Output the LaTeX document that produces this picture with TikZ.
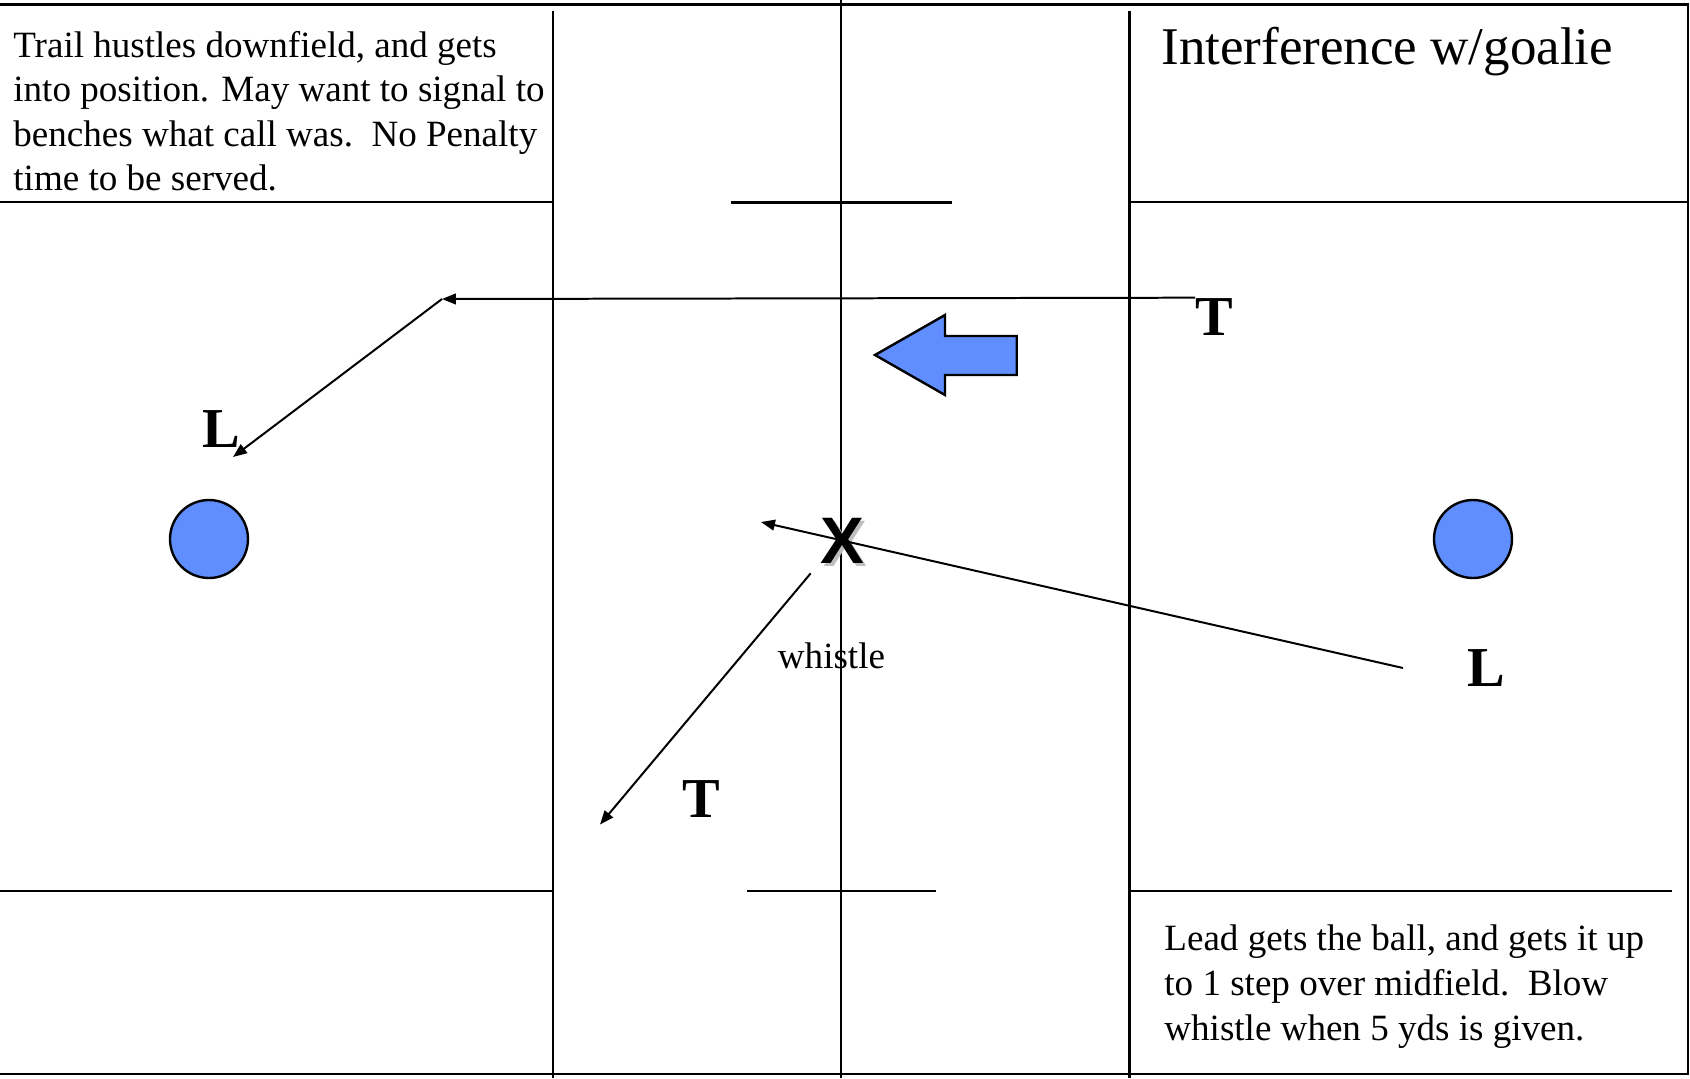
\documentclass[tikz,border=0pt]{standalone}
\usepackage{fontspec}
\setmainfont{Liberation Serif}
\newfontfamily\xfont{Liberation Sans}
\usetikzlibrary{arrows.meta}
\definecolor{ballblue}{RGB}{96,142,255}
\begin{document}
\begin{tikzpicture}[x=0.5bp,y=-0.5bp,
  field/.style={line width=1.3pt},
  move/.style={line width=1pt,-{Triangle[length=7pt,width=5.4pt]}},
  body/.style={font=\fontsize{18.6}{22.4}\selectfont, inner sep=0pt, anchor=base west},
  titletext/.style={font=\fontsize{26.6}{32}\selectfont, inner sep=0pt, anchor=base west},
  official/.style={font=\fontsize{28.3}{33}\selectfont\bfseries, inner sep=0pt, anchor=base west},
  ball/.style={circle, draw, line width=1.2pt, fill=ballblue, minimum size=39bp, inner sep=0pt},
  xstyle/.style={font=\xfont\fontsize{33}{38}\selectfont\bfseries, inner sep=0pt}]
\useasboundingbox (0,0) rectangle (1690,1078);
% field frame and lines
\draw[field] (0,4.5) -- (1688,4.5) -- (1688,1074) -- (0,1074);
\draw[field] (553,11) -- (553,1078);
\draw[field] (841,0) -- (841,1078);
\draw[field] (1129.5,11) -- (1129.5,1078);
\draw[field] (0,202) -- (553,202);
\draw[field] (730.7,202.7) -- (952,202.7);
\draw[field] (1129.5,202) -- (1688,202);
\draw[field] (0,891) -- (553,891);
\draw[field] (747,891) -- (935.5,891);
\draw[field] (1129.5,891) -- (1672,891);
% texts
\node[body] (tl1) at (13,57) {Trail hustles downfield, and gets};
\node[body] (tl2) at (13,101.5) {into position. May want to signal to};
\node[body] (tl3) at (13,146) {benches what call was.\ \ No Penalty};
\node[body] (tl4) at (13,190.5) {time to be served.};
\node[titletext] (title) at (1161,64) {Interference w/goalie};
\node[body] (br1) at (1164,950.6) {Lead gets the ball, and gets it up};
\node[body] (br2) at (1164,995.5) {to 1 step over midfield.\ \ Blow};
\node[body] (br3) at (1164,1040) {whistle when 5 yds is given.};
\node[body, anchor=base] (whistle) at (831.5,668) {whistle};
% officials
\node[official] (T1) at (1195,335) {T};
\node[official] (L1) at (202,447) {L};
\node[official] (L2) at (1467,686) {L};
\node[official] (T2) at (682,817) {T};
% goals
\node[ball] (g1) at (209,539) {};
\node[ball] (g2) at (1473,539) {};
% direction arrow
\draw[line width=1.2pt, fill=ballblue, line join=miter] (875,355) -- (945,315) -- (945,336) -- (1016.7,336) -- (1016.7,375) -- (945,375) -- (945,395) -- cycle;
% X
\node[xstyle, text=black!25] (xshadow) at (845.5,543.5) {X};
\node[xstyle] (xmark) at (842.7,540.7) {X};
% movements
\coordinate (c1) at (442,299);
\coordinate (l1tip) at (233,457);
\coordinate (l2start) at (1403,668);
\coordinate (xtip) at (761,522);
\coordinate (t2start) at (810.7,573.3);
\coordinate (t2tip) at (600,824.5);
\draw[move] (T1.north west) -- (c1);
\draw[move] (c1) -- (l1tip);
\draw[move] (l2start) -- (xtip);
\draw[move] (t2start) -- (t2tip);
\end{tikzpicture}
\end{document}
